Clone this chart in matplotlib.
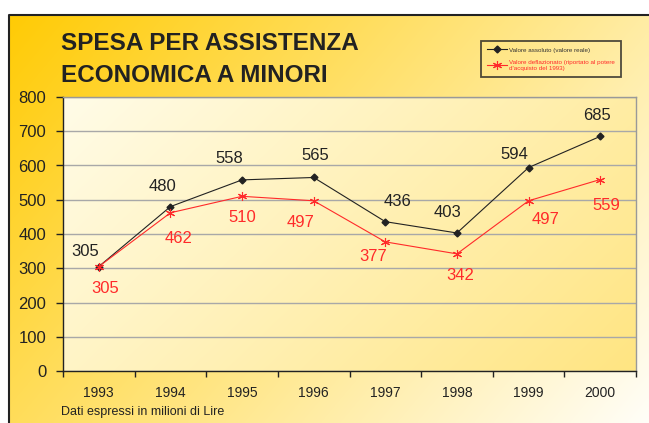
import numpy as np
import matplotlib
matplotlib.use('Agg')
import matplotlib.pyplot as plt
from matplotlib.colors import to_rgb

plt.rcParams['font.family'] = ['Liberation Sans', 'DejaVu Sans']

# Data
years = ['1993', '1994', '1995', '1996', '1997', '1998', '1999', '2000']
valore_assoluto = [305, 480, 558, 565, 436, 403, 594, 685]
valore_deflazionato = [305, 462, 510, 497, 377, 342, 497, 559]

# label offsets (pixels) for the data labels
off_black = [(-14, 15), (-8, 20), (-13, 21), (2, 22), (12, 20), (-9, 20), (-14, 13), (-3, 21)]
off_red = [(6, -22), (8, -26), (0, -21), (-13, -22), (-12, -15), (3, -22), (17, -19), (6, -26)]

W, H = 649, 423
fig = plt.figure(figsize=(W / 100, H / 100), dpi=100)
fig.patch.set_facecolor('white')


def gradient(nx, ny, c0, c1, wx, wy):
    x = np.linspace(0, 1, nx)[None, :]
    y = np.linspace(0, 1, ny)[:, None]
    t = (x * wx + y * wy) / (wx + wy)
    c0 = np.array(to_rgb(c0))
    c1 = np.array(to_rgb(c1))
    return c0 + (c1 - c0) * t[..., None]


# outer background with frame
bg = fig.add_axes([0, 0, 1, 1])
bg.set_xlim(0, W)
bg.set_ylim(H, 0)
bg.axis('off')
bg.imshow(gradient(200, 150, '#FFCB05', '#FFFEF8', 0.75, 0.4),
          extent=[9, W, H, 15], aspect='auto', interpolation='bilinear')
bg.plot([9, 9, W], [H, 15, 15], color='#222222', lw=1.5)

# title
fig.text(61 / W, 1 - 43 / H, 'SPESA PER ASSISTENZA', fontsize=17.5, fontweight='bold',
         color='#222222', va='center', ha='left')
fig.text(61 / W, 1 - 75 / H, 'ECONOMICA A MINORI', fontsize=17.5, fontweight='bold',
         color='#222222', va='center', ha='left')

# plot area
left, right, top, bottom = 63, 636, 97, 371
ax = fig.add_axes([left / W, 1 - bottom / H, (right - left) / W, (bottom - top) / H])
ax.set_facecolor('none')
ax.imshow(gradient(200, 150, '#FFFCE8', '#FFE582', 0.7, 0.35),
          extent=[0, 1, 0, 1], transform=ax.transAxes, aspect='auto',
          interpolation='bilinear', zorder=0)

x = np.arange(len(years)) + 0.5
ax.set_xlim(0, len(years))
ax.set_ylim(0, 800)
ax.set_yticks(range(0, 801, 100))
ax.yaxis.grid(True, color='#A8A8A8', lw=1)
ax.set_axisbelow(True)
ax.set_xticks(range(0, len(years) + 1))
ax.set_xticklabels([])
ax.set_xticks(x, minor=True)
ax.set_xticklabels(years, minor=True)
ax.tick_params(axis='x', which='minor', length=0, pad=11, labelsize=10, labelcolor='#222222')
ax.tick_params(axis='x', which='major', length=4, width=1, direction='out', color='#222222')
ax.tick_params(axis='y', length=5, width=1, direction='out', pad=7, labelsize=12,
               labelcolor='#222222', color='#222222')
for s in ['left', 'bottom']:
    ax.spines[s].set_color('#222222')
    ax.spines[s].set_linewidth(1)
for s in ['top', 'right']:
    ax.spines[s].set_color('#999999')
    ax.spines[s].set_linewidth(1)

ax.plot(x, valore_assoluto, color='#222222', lw=0.8, marker='D', ms=3.5,
        label='Valore assoluto (valore reale)', zorder=3)
ax.plot(x, valore_deflazionato, color='#FF2A2A', lw=0.8, marker=(6, 2, 0), ms=6.5, mew=0.8,
        label="Valore deflazionato (riportato al potere\nd'acquisto del 1993)", zorder=3)

for xi, v, o in zip(x, valore_assoluto, off_black):
    ax.annotate(str(v), (xi, v), xytext=o, textcoords='offset pixels', ha='center',
                va='center', fontsize=12, color='#222222')
for xi, v, o in zip(x, valore_deflazionato, off_red):
    ax.annotate(str(v), (xi, v), xytext=o, textcoords='offset pixels', ha='center',
                va='center', fontsize=12, color='#FF2A2A')

leg = fig.legend(loc='upper left', bbox_to_anchor=(481 / W, 1 - 41 / H), fontsize=4.5,
                 frameon=True, fancybox=False, edgecolor='#222222', facecolor='none',
                 handlelength=3.2, handletextpad=0.3, borderpad=1.0, borderaxespad=0,
                 labelspacing=1.2, labelcolor='linecolor')
leg.get_frame().set_linewidth(1.3)
leg.get_texts()[0].set_color('#333333')

fig.text(61 / W, 1 - 412 / H, 'Dati espressi in milioni di Lire', fontsize=9,
         color='#222222', va='center', ha='left')

fig.savefig('out.png', dpi=100)
